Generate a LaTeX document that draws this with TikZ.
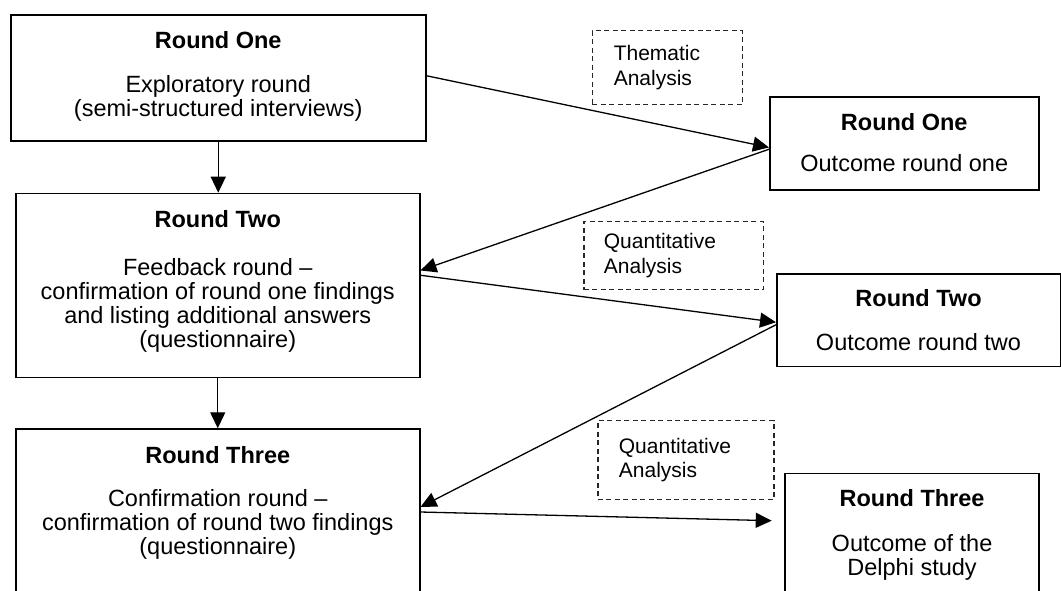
\documentclass[tikz,border=0pt]{standalone}
\usepackage{fontspec}
\setmainfont{Liberation Sans}
\usetikzlibrary{arrows.meta}
\begin{document}
\begin{tikzpicture}[x=1pt,y=-1pt,
  roundbox/.style={draw, line width=1.5pt, rectangle, inner sep=0pt, anchor=north west},
  roundtext/.style={inner sep=0pt, align=center, anchor=north,
    font=\fontsize{23.5}{24}\selectfont},
  notebox/.style={draw=black!85, line width=1.2pt, dash pattern=on 5pt off 3.5pt,
    rectangle, align=left, anchor=north west, inner ysep=0pt,
    font=\fontsize{21}{24.5}\selectfont},
  arr/.style={-{Triangle[length=16pt,width=15pt]}, line width=1.3pt}]

\clip (0,0) rectangle (1061,590);

% Delphi rounds (left column)
\node[roundbox, minimum width=415pt, minimum height=126pt] (r1) at (10,14) {};
\node[roundtext] (r1t) at ([yshift=-17.5pt]r1.north)
  {\textbf{Round One}\\[20pt]Exploratory round\\(semi-structured interviews)};

\node[roundbox, minimum width=404pt, minimum height=184pt] (r2) at (15,192.7) {};
\node[roundtext] (r2t) at ([yshift=-18pt]r2.north)
  {\textbf{Round Two}\\[24pt]Feedback round --\\confirmation of round one findings\\and listing additional answers\\(questionnaire)};

\node[roundbox, minimum width=404pt, minimum height=200pt] (r3) at (15,428.3) {};
\node[roundtext] (r3t) at ([yshift=-18.2pt]r3.north)
  {\textbf{Round Three}\\[19pt]Confirmation round --\\confirmation of round two findings\\(questionnaire)};

% Outcomes (right column)
\node[roundbox, minimum width=269pt, minimum height=93pt] (o1) at (769,96) {};
\node[roundtext] (o1t) at ([yshift=-17.2pt]o1.north)
  {\textbf{Round One}\\[17pt]Outcome round one};

\node[roundbox, minimum width=283.5pt, minimum height=92.4pt] (o2) at (776,273.3) {};
\node[roundtext] (o2t) at ([yshift=-16.2pt]o2.north)
  {\textbf{Round Two}\\[20pt]Outcome round two};

\node[roundbox, minimum width=254pt, minimum height=150pt] (o3) at (784.3,472.5) {};
\node[roundtext] (o3t) at ([yshift=-16.7pt]o3.north)
  {\textbf{Round Three}\\[21pt]Outcome of the\\Delphi study};

% Analysis notes
\node[notebox, minimum width=150pt, minimum height=74pt, text width=107pt, inner xsep=21.5pt]
  (n1) at (591.7,30) {Thematic\\Analysis};
\node[notebox, minimum width=179.4pt, minimum height=68.3pt, text width=139.4pt, inner xsep=20pt]
  (n2) at (583.3,220.7) {Quantitative\\Analysis};
\node[notebox, minimum width=176pt, minimum height=79pt, text width=134pt, inner xsep=21pt]
  (n3) at (597.3,420) {Quantitative\\Analysis};

% Flow between rounds
\draw[arr] (r1.south) -- (r1.south |- r2.north);
\draw[arr] (r2.south) -- (r2.south |- r3.north);

% Rounds to outcomes and back
\draw[arr] ([yshift=2pt]r1.east) -- ([yshift=-4.2pt]o1.west);
\draw[arr] ([yshift=-6pt]o1.west) -- ([yshift=15pt]r2.east);
\draw[arr] ([yshift=10.2pt]r2.east) -- ([yshift=-2pt]o2.west);
\draw[arr] ([yshift=-4.5pt]o2.west) -- ([yshift=-78.7pt]r3.north east);
\draw[arr] ([yshift=-83.7pt]r3.north east) -- ([xshift=-12.6pt,yshift=-48.2pt]o3.north west);

\end{tikzpicture}
\end{document}
